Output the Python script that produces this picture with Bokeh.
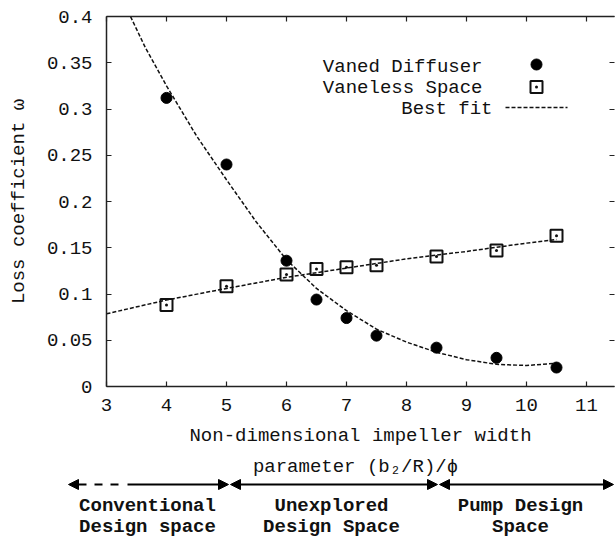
from bokeh.plotting import figure
from bokeh.layouts import column
from bokeh.models import (LinearAxis, FixedTicker, Label, Arrow, NormalHead,
                          Range1d)
from bokeh.embed import file_html
from bokeh.resources import INLINE

# ---------------- data ----------------
vaned_x = [4, 5, 6, 6.5, 7, 7.5, 8.5, 9.5, 10.5]
vaned_y = [0.312, 0.240, 0.136, 0.094, 0.074, 0.055, 0.042, 0.031, 0.0205]
vaneless_x = [4, 5, 6, 6.5, 7, 7.5, 8.5, 9.5, 10.5]
vaneless_y = [0.088, 0.1085, 0.121, 0.127, 0.129, 0.131, 0.1405, 0.147, 0.163]
fit_vaned_x = [3.4, 3.65, 4.0, 4.5, 5.0, 5.5, 6.0, 6.5, 7.0, 7.5,
               8.0, 8.5, 9.0, 9.5, 10.0, 10.5]
fit_vaned_y = [0.400, 0.366, 0.325, 0.271, 0.2235, 0.1775, 0.137, 0.106,
               0.082, 0.062, 0.048, 0.037, 0.029, 0.024, 0.0227, 0.0252]
fit_vaneless_x = [3, 4, 5, 6, 7, 8, 9, 10, 10.5]
fit_vaneless_y = [0.0786, 0.0935, 0.106, 0.118, 0.128, 0.138, 0.146, 0.155, 0.159]

x_ticks = [3, 4, 5, 6, 7, 8, 9, 10, 11]
y_ticks = [0, 0.05, 0.1, 0.15, 0.2, 0.25, 0.3, 0.35, 0.4]
y_tick_labels = ["0", "0.05", "0.1", "0.15", "0.2", "0.25", "0.3", "0.35", "0.4"]

legend_labels = ["Vaned Diffuser", "Vaneless Space", "Best fit"]
x_label_lines = ["Non-dimensional impeller width", "parameter (b\u2082/R)/\u03d5"]
y_label = "Loss coefficient \u03c9"
region_labels = [("Conventional", "Design space"),
                 ("Unexplored", "Design Space"),
                 ("Pump Design", "Space")]

# ---------------- layout constants (pixels) ----------------
W = 615
H1, H2 = 420, 117
L, T, R, B = 106, 16, 1, 34
FW, FH = W - L - R, H1 - T - B
X0, X1 = 3.0, 3.0 + FW / 60.0
Y0, Y1 = 0.0, 0.4
FONT = "Liberation Mono"
FS = "19px"
INK = "#111111"


def dx(px):
    return X0 + (px - L) * (X1 - X0) / FW


def dy(py):
    return Y1 - (py - T) * (Y1 - Y0) / FH


p = figure(width=W, height=H1, output_backend="svg", toolbar_location=None,
           x_range=Range1d(X0, X1), y_range=Range1d(Y0, Y1),
           min_border_left=L, min_border_right=R, min_border_top=T,
           min_border_bottom=B, x_axis_location=None, y_axis_location=None)
p.outline_line_color = None
p.grid.visible = False
p.background_fill_color = "white"
p.border_fill_color = "white"
p.frame_align = False


def style_axis(ax, standoff):
    ax.axis_line_color = "#222222"
    ax.axis_line_width = 1.5
    ax.major_tick_line_color = "#222222"
    ax.major_tick_line_width = 1.2
    ax.major_tick_in = 5
    ax.major_tick_out = 0
    ax.minor_tick_line_color = "#222222"
    ax.minor_tick_line_width = 1.2
    ax.minor_tick_in = 5
    ax.minor_tick_out = 0
    ax.major_label_text_font = FONT
    ax.major_label_text_font_size = FS
    ax.major_label_text_color = INK
    ax.major_label_standoff = standoff


xb = LinearAxis(ticker=FixedTicker(ticks=x_ticks, minor_ticks=[]))
style_axis(xb, 12)
p.add_layout(xb, "below")

yl = LinearAxis(ticker=FixedTicker(ticks=y_ticks, minor_ticks=[]))
style_axis(yl, 14)
yl.major_label_overrides = {t: s for t, s in zip(y_ticks, y_tick_labels)}
yl.axis_label = y_label
yl.axis_label_text_font = FONT
yl.axis_label_text_font_style = "normal"
yl.axis_label_text_font_size = FS
yl.axis_label_text_color = INK
yl.axis_label_standoff = 14
p.add_layout(yl, "left")

# top / right: ticks only (drawn as minor ticks so no labels exist)
xt = LinearAxis(ticker=FixedTicker(ticks=[], minor_ticks=x_ticks))
style_axis(xt, 0)
p.add_layout(xt, "above")

yr = LinearAxis(ticker=FixedTicker(ticks=[], minor_ticks=y_ticks))
style_axis(yr, 0)
yr.axis_line_color = None
p.add_layout(yr, "right")

# ---------------- fit lines ----------------
p.line(fit_vaned_x, fit_vaned_y, line_color=INK, line_width=1.5,
       line_dash="4 2")
p.line(fit_vaneless_x, fit_vaneless_y, line_color=INK, line_width=1.5,
       line_dash="4 2")

# ---------------- data points ----------------
p.scatter(vaned_x, vaned_y, marker="circle", size=11, fill_color="black",
          line_color="black")
p.scatter(vaneless_x, vaneless_y, marker="square_dot", size=12,
          fill_color=None, line_color=INK, line_width=2)

# ---------------- legend (text left, symbol right) ----------------
leg_text_right = [482, 482, 492]
leg_rows = [66, 87, 108]
for txt, xr, yr_ in zip(legend_labels, leg_text_right, leg_rows):
    p.add_layout(Label(x=dx(xr), y=dy(yr_), text=txt, text_align="right",
                       text_baseline="middle", text_font=FONT,
                       text_font_size=FS, text_color=INK))
p.scatter([dx(536)], [dy(64)], marker="circle", size=11, fill_color="black",
          line_color="black")
p.scatter([dx(536)], [dy(86.5)], marker="square_dot", size=12,
          fill_color=None, line_color=INK, line_width=2)
p.line([dx(505), dx(567)], [dy(107), dy(107)], line_color=INK,
       line_width=1.5, line_dash="4 2")

# ---------------- lower panel: axis title + design-space arrows ----------------
q = figure(width=W, height=H2, output_backend="svg", toolbar_location=None,
           x_range=Range1d(0, W), y_range=Range1d(H1 + H2, H1),
           min_border=0, x_axis_location=None, y_axis_location=None)
q.outline_line_color = None
q.grid.visible = False
q.background_fill_color = "white"
q.border_fill_color = "white"
q.frame_align = False

for txt, cx, cy in zip(x_label_lines, [360, 355], [435, 466]):
    q.add_layout(Label(x=cx, y=cy, text=txt, text_align="center",
                       text_baseline="middle", text_font=FONT,
                       text_font_size=FS, text_color=INK))


def head():
    return NormalHead(size=10, fill_color="black", line_color="black",
                      line_width=1)


ay = 484
q.add_layout(Arrow(x_start=118, y_start=ay, x_end=68, y_end=ay,
                   line_width=2, line_dash="8 8", line_color="black",
                   end=head()))
q.add_layout(Arrow(x_start=127, y_start=ay, x_end=228, y_end=ay,
                   line_width=2, line_color="black", end=head()))
q.add_layout(Arrow(x_start=230, y_start=ay, x_end=437, y_end=ay,
                   line_width=2, line_color="black", start=head(), end=head()))
q.add_layout(Arrow(x_start=439, y_start=ay, x_end=613, y_end=ay,
                   line_width=2, line_color="black", start=head(), end=head()))

for (l1, l2), cx in zip(region_labels, [147, 331, 520]):
    for txt, cy in zip([l1, l2], [505, 526]):
        q.add_layout(Label(x=cx, y=cy, text=txt, text_align="center",
                           text_baseline="middle", text_font=FONT,
                           text_font_style="bold", text_font_size=FS,
                           text_color=INK))

layout = column(p, q, spacing=0)
open("out.html", "w").write(file_html(layout, INLINE))
